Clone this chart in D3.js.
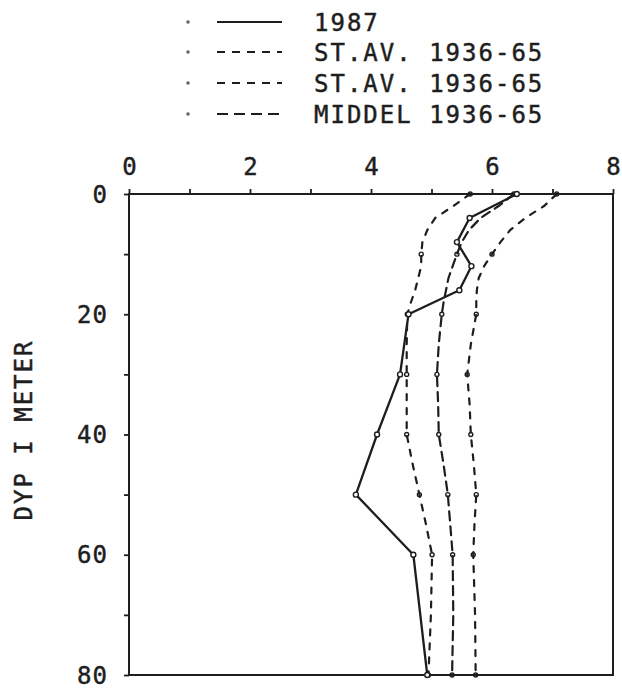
<!DOCTYPE html>
<html>
<head>
<meta charset="utf-8">
<script src="https://cdn.jsdelivr.net/npm/d3@7/dist/d3.min.js"></script>
<style>
  html, body { margin: 0; padding: 0; background: #fff; }
  svg { display: block; }
  text { font-family: "DejaVu Sans Mono", monospace; fill: #1e1e1e; stroke: #1e1e1e; stroke-width: 0.45px; }
</style>
</head>
<body>
<svg id="chart" width="622" height="688"></svg>
<script>
// ---- data ----
const depths1987 = [0, 4, 8, 12, 16, 20, 30, 40, 50, 60, 80];
const temp1987   = [6.41, 5.63, 5.42, 5.66, 5.46, 4.62, 4.48, 4.10, 3.75, 4.70, 4.93];

const depthsHist = [0, 2, 4, 6, 8, 10, 12, 14, 16, 18, 20, 25, 30, 35, 40, 45, 50, 55, 60, 70, 80];
const stavLow    = [5.64, 5.36, 5.06, 4.93, 4.85, 4.83, 4.83, 4.78, 4.73, 4.66, 4.60, 4.59, 4.59, 4.59, 4.59, 4.69, 4.80, 4.91, 5.01, 4.99, 4.95];
const stavHigh   = [7.07, 6.86, 6.55, 6.30, 6.14, 6.00, 5.87, 5.78, 5.75, 5.74, 5.74, 5.65, 5.59, 5.63, 5.65, 5.70, 5.74, 5.71, 5.69, 5.72, 5.73];
const middel     = [6.36, 6.11, 5.81, 5.62, 5.50, 5.42, 5.35, 5.28, 5.24, 5.20, 5.17, 5.12, 5.09, 5.11, 5.12, 5.20, 5.27, 5.31, 5.35, 5.36, 5.34];
const markDepths = [0, 10, 20, 30, 40, 50, 60, 80];

const xTicks      = [0, 1, 2, 3, 4, 5, 6, 7, 8];
const xTickLabels = [0, 2, 4, 6, 8];
const yTicks      = [0, 10, 20, 30, 40, 50, 60, 70, 80];
const yTickLabels = [0, 20, 40, 60, 80];

const legendLabels = ["1987", "ST.AV. 1936-65", "ST.AV. 1936-65", "MIDDEL 1936-65"];
const yTitle = "DYP I METER";

// ---- drawing ----
const ink = "#1e1e1e";
const svg = d3.select("#chart");
const x = d3.scaleLinear().domain([0, 8]).range([129, 613]);
const y = d3.scaleLinear().domain([0, 80]).range([194, 675]);

const fontSize = 24, letterSp = 2;

// frame
svg.append("rect")
  .attr("x", x(0)).attr("y", y(0))
  .attr("width", x(8) - x(0)).attr("height", y(80) - y(0))
  .attr("fill", "none").attr("stroke", ink).attr("stroke-width", 2);

// top axis
const xAxis = d3.axisTop(x).tickValues(xTicks).tickSize(5).tickSizeOuter(0)
  .tickFormat(d => xTickLabels.includes(d) ? String(d) : "");
const gx = svg.append("g").attr("transform", `translate(0,${y(0)})`).call(xAxis);
gx.select(".domain").remove();
gx.selectAll(".tick line").attr("stroke", ink).attr("stroke-width", 1.8);
gx.selectAll(".tick text")
  .attr("y", -19).attr("dy", 0)
  .style("font-size", fontSize + "px")
  .style("font-family", "DejaVu Sans Mono, monospace")
  .attr("fill", ink);

// left axis
const yAxis = d3.axisLeft(y).tickValues(yTicks).tickSize(5).tickSizeOuter(0)
  .tickFormat(d => yTickLabels.includes(d) ? String(d) : "");
const gy = svg.append("g").attr("transform", `translate(${x(0)},0)`).call(yAxis);
gy.select(".domain").remove();
gy.selectAll(".tick line").attr("stroke", ink).attr("stroke-width", 1.8);
gy.selectAll(".tick text")
  .attr("x", -21).attr("dy", 8)
  .style("font-size", fontSize + "px")
  .style("font-family", "DejaVu Sans Mono, monospace")
  .style("letter-spacing", "1px")
  .attr("fill", ink);

// y title
svg.append("text")
  .attr("transform", `translate(32,430) rotate(-90)`)
  .attr("text-anchor", "middle")
  .style("font-size", fontSize + "px")
  .style("letter-spacing", letterSp + "px")
  .text(yTitle);

// lines
const line = d3.line().x(d => x(d[1])).y(d => y(d[0]));
const histSeries = [
  { vals: stavLow,  dash: "6,8" },
  { vals: stavHigh, dash: "6,8" },
  { vals: middel,   dash: "9,6" }
];
histSeries.forEach(s => {
  const pts = depthsHist.map((d, i) => [d, s.vals[i]]);
  svg.append("path").datum(pts)
    .attr("d", line).attr("fill", "none")
    .attr("stroke", ink).attr("stroke-width", 2.2)
    .attr("stroke-dasharray", s.dash).attr("stroke-linecap", "round");
  svg.selectAll(null).data(pts.filter(p => markDepths.includes(p[0]))).enter()
    .append("circle")
    .attr("cx", p => x(p[1])).attr("cy", p => y(p[0])).attr("r", 2)
    .attr("fill", "none").attr("stroke", ink).attr("stroke-width", 1.4);
});

const pts87 = depths1987.map((d, i) => [d, temp1987[i]]);
svg.append("path").datum(pts87)
  .attr("d", line).attr("fill", "none")
  .attr("stroke", ink).attr("stroke-width", 2.3).attr("stroke-linejoin", "round");
svg.selectAll(null).data(pts87).enter().append("circle")
  .attr("cx", p => x(p[1])).attr("cy", p => y(p[0])).attr("r", 2.5)
  .attr("fill", "#fff").attr("stroke", ink).attr("stroke-width", 1.4);

// legend
const legY = [22, 52, 83, 114];
const legDash = [null, "8,7", "8,7", "11,6"];
legendLabels.forEach((lab, i) => {
  const cy = legY[i];
  svg.append("circle").attr("cx", 188).attr("cy", cy).attr("r", 1.8).attr("fill", "#666");
  const l = svg.append("line").attr("x1", 217).attr("x2", 282).attr("y1", cy).attr("y2", cy)
    .attr("stroke", ink).attr("stroke-width", 2);
  if (legDash[i]) l.attr("stroke-dasharray", legDash[i]);
  svg.append("text").attr("x", 314).attr("y", cy + 9)
    .style("font-size", fontSize + "px")
    .style("letter-spacing", letterSp + "px")
    .text(lab);
});
</script>
</body>
</html>
